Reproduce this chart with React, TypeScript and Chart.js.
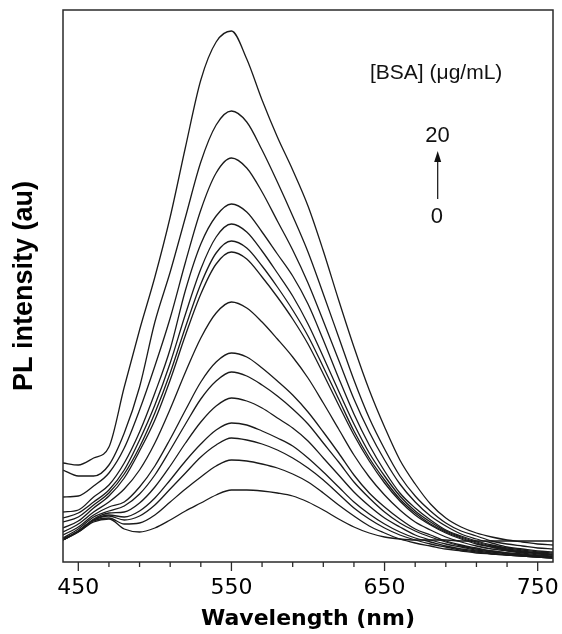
import React, { useEffect, useRef } from "react";
import { Chart, registerables } from "chart.js";

Chart.register(...registerables);

// Wavelength grid (nm)
const wavelengths = [440, 450, 460, 470, 480, 490, 500, 510, 520, 530, 540, 550, 560, 570, 580, 590, 600, 610, 620, 630, 640, 650, 660, 670, 680, 690, 700, 710, 720, 730, 740, 750, 760];

// PL intensity (arbitrary units), spectra from highest [BSA] (20 µg/mL) to lowest (0)
const c1 = [99, 97, 104, 115, 175, 232, 285, 345, 415, 482, 520, 531, 503, 462, 425, 392, 356, 311, 262, 215, 172, 135, 102, 78, 58, 44, 35, 29, 25, 22, 20, 18, 17];
const c2 = [92, 86, 86, 97, 129, 175, 240, 290, 345, 400, 437, 451, 440, 412, 380, 346, 310, 268, 225, 182, 144, 113, 86, 66, 51, 39, 31, 26, 21, 18, 16, 14, 13];
const c3 = [65, 66, 76, 89, 114, 152, 196, 244, 300, 352, 389, 404, 394, 370, 341, 312, 279, 241, 202, 163, 130, 102, 78, 60, 46, 36, 28, 23, 19, 15, 13, 11, 10];
const c4 = [50, 52, 65, 77, 99, 130, 169, 213, 272, 318, 346, 358, 350, 330, 308, 286, 258, 222, 184, 148, 117, 91, 69, 54, 42, 32, 26, 21, 17, 14, 12, 10, 9];
const c5 = [44, 49, 60, 72, 92, 122, 157, 199, 248, 293, 325, 338, 330, 311, 289, 266, 238, 205, 171, 138, 109, 86, 66, 51, 40, 31, 25, 20, 16, 13, 11, 9, 8];
const c6 = [40, 45, 57, 69, 88, 115, 149, 189, 235, 278, 309, 321, 314, 296, 275, 252, 226, 195, 163, 131, 104, 82, 63, 49, 38, 30, 24, 19, 15, 12, 10, 9, 7];
const c7 = [34, 41, 54, 66, 84, 111, 142, 182, 227, 268, 298, 310, 303, 285, 265, 243, 218, 188, 157, 127, 101, 79, 61, 47, 37, 29, 23, 18, 15, 12, 10, 8, 7];
const c8 = [30, 38, 50, 60, 73, 92, 119, 153, 190, 224, 249, 260, 254, 240, 223, 205, 184, 159, 133, 107, 85, 67, 52, 40, 32, 25, 20, 16, 13, 11, 9, 7, 6];
const c9 = [27, 35, 47, 55, 60, 75, 96, 123, 152, 180, 200, 209, 205, 194, 181, 167, 150, 130, 109, 87, 69, 55, 43, 33, 27, 21, 17, 14, 11, 9, 8, 6, 5];
const c10 = [24, 33, 45, 51, 56, 68, 87, 112, 138, 163, 181, 190, 186, 177, 166, 153, 138, 119, 100, 80, 64, 50, 39, 31, 25, 20, 16, 13, 11, 9, 7, 6, 5];
const c11 = [23, 31, 43, 49, 50, 59, 75, 96, 119, 140, 156, 164, 161, 154, 144, 134, 121, 104, 87, 70, 56, 44, 35, 27, 22, 18, 15, 12, 10, 8, 7, 6, 5];
const c12 = [22, 31, 42, 47, 45, 51, 64, 82, 101, 118, 132, 139, 137, 131, 124, 116, 104, 90, 75, 60, 48, 38, 30, 24, 20, 16, 13, 11, 9, 7, 6, 5, 4];
const c13 = [22, 31, 42, 46, 42, 46, 57, 73, 89, 105, 117, 124, 122, 118, 112, 104, 94, 82, 68, 54, 43, 34, 27, 22, 18, 15, 12, 10, 8, 7, 6, 5, 4];
const c14 = [22, 30, 41, 44, 38, 39, 47, 60, 73, 85, 96, 102, 101, 98, 94, 88, 80, 69, 57, 46, 36, 29, 23, 19, 16, 13, 11, 9, 8, 7, 6, 5, 4];
const c15 = [22, 30, 40, 43, 33, 30, 34, 42, 51, 59, 67, 72, 72, 71, 69, 66, 60, 52, 43, 35, 29, 25, 23, 22, 22, 22, 21, 21, 21, 21, 21, 21, 21];

const curves = [c1, c2, c3, c4, c5, c6, c7, c8, c9, c10, c11, c12, c13, c14, c15];

// Axis ranges and ticks
const xMin = 440;
const xMax = 760;
const yMin = 0;
const yMax = 552;
const tickValues = [450, 470, 490, 510, 530, 550, 570, 590, 610, 630, 650, 670, 690, 710, 730, 750];
const labeledTicks = [450, 550, 650, 750];

// Annotation texts (positions in data units)
const legendTitle = "[BSA] (\u03bcg/mL)";
const legendHigh = "20";
const legendLow = "0";
const legendPos = { titleX: 640.5, titleY: 483, highX: 684.6, highY: 420, lowX: 684.2, lowY: 339, arrowX: 684.7, arrowTip: 411, arrowBase: 363 };

const decorPlugin = {
  id: "decor",
  afterDraw(chart: any) {
    const { ctx, chartArea: a, scales } = chart;
    const x = scales.x;
    const y = scales.y;
    ctx.save();
    // frame
    ctx.strokeStyle = "#2a2a2a";
    ctx.lineWidth = 1.5;
    ctx.strokeRect(a.left, a.top, a.right - a.left, a.bottom - a.top);
    // tick marks
    ctx.lineWidth = 1.3;
    for (const v of tickValues) {
      const px = x.getPixelForValue(v);
      const len = labeledTicks.includes(v) ? 9 : 5;
      ctx.beginPath();
      ctx.moveTo(px, a.bottom);
      ctx.lineTo(px, a.bottom + len);
      ctx.stroke();
    }
    // annotation
    ctx.fillStyle = "#111";
    ctx.textBaseline = "alphabetic";
    ctx.textAlign = "left";
    ctx.font = '21px "Liberation Sans", Arial, sans-serif';
    ctx.fillText(legendTitle, x.getPixelForValue(legendPos.titleX), y.getPixelForValue(legendPos.titleY));
    ctx.textAlign = "center";
    ctx.font = '22px "Liberation Sans", Arial, sans-serif';
    ctx.fillText(legendHigh, x.getPixelForValue(legendPos.highX), y.getPixelForValue(legendPos.highY));
    ctx.fillText(legendLow, x.getPixelForValue(legendPos.lowX), y.getPixelForValue(legendPos.lowY));
    // arrow
    const ax = x.getPixelForValue(legendPos.arrowX);
    const tip = y.getPixelForValue(legendPos.arrowTip);
    const base = y.getPixelForValue(legendPos.arrowBase);
    ctx.strokeStyle = "#111";
    ctx.lineWidth = 1.2;
    ctx.beginPath();
    ctx.moveTo(ax, base);
    ctx.lineTo(ax, tip + 8);
    ctx.stroke();
    ctx.beginPath();
    ctx.moveTo(ax, tip);
    ctx.lineTo(ax - 3.5, tip + 11);
    ctx.lineTo(ax + 3.5, tip + 11);
    ctx.closePath();
    ctx.fill();
    ctx.restore();
  },
};

export default function App() {
  const ref = useRef<HTMLCanvasElement>(null);

  useEffect(() => {
    if (!ref.current) return;
    const chart = new Chart(ref.current, {
      type: "line",
      data: {
        datasets: curves.map((vals, i) => ({
          label: "s" + (i + 1),
          data: wavelengths.map((w, j) => ({ x: w, y: vals[j] })),
          borderColor: "#1a1a1a",
          borderWidth: 1.3,
          pointRadius: 0,
          fill: false,
          cubicInterpolationMode: "monotone" as const,
        })),
      },
      options: {
        responsive: false,
        animation: false,
        devicePixelRatio: 1,
        layout: { padding: { left: 0, right: 9, top: 10, bottom: 0 } },
        plugins: { legend: { display: false }, tooltip: { enabled: false } },
        scales: {
          x: {
            type: "linear",
            min: xMin,
            max: xMax,
            grid: { display: false, drawTicks: false },
            border: { display: false },
            afterBuildTicks: (scale: any) => {
              scale.ticks = tickValues.map((v) => ({ value: v }));
            },
            afterFit: (scale: any) => {
              scale.height = 72;
              scale.paddingLeft = 0;
              scale.paddingRight = 0;
            },
            ticks: {
              autoSkip: false,
              maxRotation: 0,
              padding: 13,
              color: "#000",
              font: { family: "'DejaVu Sans', sans-serif", size: 22 },
              callback: (v: any) => (labeledTicks.includes(Number(v)) ? String(v) : ""),
            },
            title: {
              display: true,
              text: "Wavelength (nm)",
              color: "#000",
              font: { family: "'DejaVu Sans', sans-serif", size: 22, weight: "bold" },
              padding: { top: 0, bottom: 2 },
            },
          },
          y: {
            type: "linear",
            min: yMin,
            max: yMax,
            grid: { display: false, drawTicks: false },
            border: { display: false },
            ticks: { display: false },
            afterFit: (scale: any) => {
              scale.width = 63;
            },
            title: {
              display: true,
              text: "PL intensity (au)",
              color: "#000",
              font: { family: "'Liberation Sans', Arial, sans-serif", size: 27, weight: "bold" },
              padding: { top: 8, bottom: 0 },
            },
          },
        },
      },
      plugins: [decorPlugin],
    });
    return () => chart.destroy();
  }, []);

  return (
    <div style={{ position: "absolute", left: 0, top: 0, width: 562, height: 634, background: "#fff" }}>
      <canvas ref={ref} width={562} height={634} style={{ display: "block" }} />
    </div>
  );
}
